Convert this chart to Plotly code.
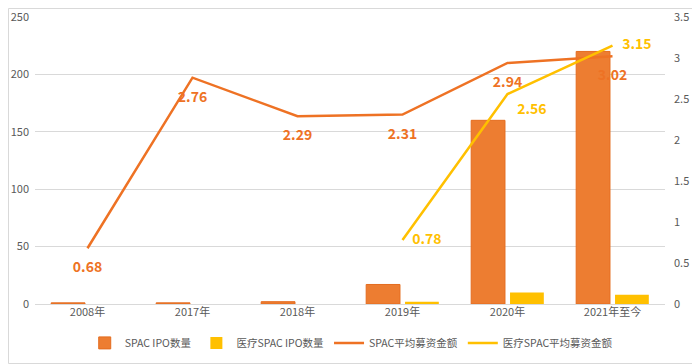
import plotly.graph_objects as go

categories = ["2008年", "2017年", "2018年", "2019年", "2020年", "2021年至今"]
spac_ipo_count = [1, 1, 2, 17, 160, 220]
med_spac_ipo_count = [0, 0, 0, 2, 10, 8]
spac_avg_raise = [0.68, 2.76, 2.29, 2.31, 2.94, 3.02]
med_spac_avg_raise = [None, None, None, 0.78, 2.56, 3.15]

ORANGE = "#ED7D31"
LINE_ORANGE = "#EE7224"
GOLD = "#FFC000"
FONT = "Noto Sans CJK SC"
CLEAR = "rgba(0,0,0,0)"

fig = go.Figure()
fig.add_trace(go.Bar(name="SPAC IPO数量", x=categories, y=spac_ipo_count,
                     marker=dict(color=ORANGE, line=dict(color="#E46C1F", width=1)), yaxis="y"))
fig.add_trace(go.Bar(name="医疗SPAC IPO数量", x=categories, y=med_spac_ipo_count,
                     marker=dict(color=GOLD, line=dict(width=0)), yaxis="y"))
fig.add_trace(go.Scatter(name="SPAC平均募资金额", x=categories, y=spac_avg_raise, yaxis="y2",
                         mode="lines+markers+text", line=dict(color=LINE_ORANGE, width=2.5),
                         marker=dict(size=20, color=CLEAR, line=dict(width=0, color=CLEAR)),
                         text=[f"{v:.2f}" for v in spac_avg_raise], textposition="bottom center",
                         textfont=dict(color=LINE_ORANGE, size=14, family=FONT, weight="bold")))
med_text = ["" if v is None else f"{v:.2f}" for v in med_spac_avg_raise]
fig.add_trace(go.Scatter(name="医疗SPAC平均募资金额", x=categories, y=med_spac_avg_raise, yaxis="y2",
                         mode="lines+markers+text", line=dict(color=GOLD, width=2.5),
                         marker=dict(size=14, color=CLEAR, line=dict(width=0, color=CLEAR)),
                         text=med_text,
                         textposition=["middle right", "middle right", "middle right", "middle right", "bottom right", "middle right"],
                         textfont=dict(color=GOLD, size=14, family=FONT, weight="bold")))

PLOT_TOP = 9
PLOT_BOTTOM = 296
PLOT_H = PLOT_BOTTOM - PLOT_TOP

fig.update_layout(
    width=692, height=356,
    margin=dict(l=27, r=35, t=PLOT_TOP, b=356 - PLOT_BOTTOM, autoexpand=False),
    paper_bgcolor="white", plot_bgcolor="white",
    font=dict(family=FONT, size=11, color="#595959"),
    barmode="group", bargap=0.26, bargroupgap=0.13,
    showlegend=True,
    legend=dict(orientation="h", x=0.496, xanchor="center", xref="container",
                y=0.1, yanchor="top", yref="container",
                font=dict(size=10.5, color="#595959"), traceorder="normal",
                itemwidth=30, bgcolor="rgba(0,0,0,0)"),
    xaxis=dict(showgrid=False, tickfont=dict(size=11, color="#595959"), ticks="",
               showline=False, automargin=False),
    yaxis=dict(range=[0, 250], dtick=50, showgrid=True, gridcolor="#D9D9D9", gridwidth=1,
               zeroline=True, zerolinecolor="#D9D9D9", zerolinewidth=1, automargin=False,
               ticklabeloverflow="allow",
               tickfont=dict(size=11, color="#595959"), ticks="", ticklabelstandoff=5),
    yaxis2=dict(range=[0, 3.5], dtick=0.5, overlaying="y", side="right", showgrid=False,
                zeroline=False, tickfont=dict(size=11, color="#595959"), ticks="",
                ticklabeloverflow="allow",
                ticklabelstandoff=8, automargin=False),
    shapes=[dict(type="rect", xref="paper", yref="paper",
                 x0=(0.5 - 27) / 630, x1=(691.5 - 27) / 630,
                 y0=(PLOT_BOTTOM - 355.5) / PLOT_H, y1=(PLOT_BOTTOM - 0.5) / PLOT_H,
                 line=dict(color="#D9D9D9", width=1), fillcolor="rgba(0,0,0,0)", layer="below")],
)

fig.write_html("out.html")
